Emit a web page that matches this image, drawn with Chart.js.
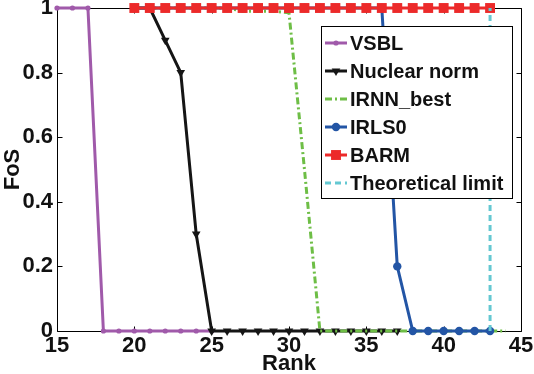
<!DOCTYPE html>
<html>
<head>
<meta charset="utf-8">
<script src="https://cdn.jsdelivr.net/npm/chart.js@4/dist/chart.umd.min.js"></script>
<style>
html,body{margin:0;padding:0;background:#fff;}
#wrap{width:534px;height:374px;position:relative;}
</style>
</head>
<body>
<div id="wrap"><canvas id="c" width="534" height="374"></canvas></div>
<script>
// ---- data ----
const xTicks = [15, 20, 25, 30, 35, 40, 45];
const yTicks = [0, 0.2, 0.4, 0.6, 0.8, 1];

const vsblRank = [15, 16, 17, 18, 19, 20, 21, 22, 23, 24, 25];
const vsblFoS  = [1, 1, 1, 0, 0, 0, 0, 0, 0, 0, 0];

const nucRank = [20, 21, 22, 23, 24, 25, 26, 27, 28, 29, 30, 31, 32, 33, 34, 35, 36, 37];
const nucFoS  = [1, 1, 0.9, 0.8, 0.3, 0, 0, 0, 0, 0, 0, 0, 0, 0, 0, 0, 0, 0];

const irnnRank = [20, 21, 22, 23, 24, 25, 26, 27, 28, 29, 30, 31, 32, 33, 34, 35, 36, 37, 38, 39, 40, 41, 42, 43, 44];
const irnnFoS  = [1, 1, 1, 1, 1, 1, 1, 0.99, 0.99, 0.99, 0.985, 0.5, 0, 0, 0, 0, 0, 0, 0, 0, 0, 0, 0, 0, 0];

const irlsRank = [20, 21, 22, 23, 24, 25, 26, 27, 28, 29, 30, 31, 32, 33, 34, 35, 36, 37, 38, 39, 40, 41, 42, 43];
const irlsFoS  = [1, 1, 1, 1, 1, 1, 1, 1, 1, 1, 1, 1, 1, 1, 1, 1, 1, 0.2, 0, 0, 0, 0, 0, 0];

const barmRank = [20, 21, 22, 23, 24, 25, 26, 27, 28, 29, 30, 31, 32, 33, 34, 35, 36, 37, 38, 39, 40, 41, 42, 43];
const barmFoS  = [1, 1, 1, 1, 1, 1, 1, 1, 1, 1, 1, 1, 1, 1, 1, 1, 1, 1, 1, 1, 1, 1, 1, 1];

const limitRank = [43, 43];
const limitFoS  = [0, 1];

const seriesNames = ['VSBL', 'Nuclear norm', 'IRNN_best', 'IRLS0', 'BARM', 'Theoretical limit'];

function pts(xs, ys) { return xs.map((x, i) => ({ x: x, y: ys[i] })); }

const FONT = "'Liberation Sans', Arial, Helvetica, sans-serif";

const datasets = [
  { label: seriesNames[0], data: pts(vsblRank, vsblFoS), borderColor: '#A05AAA', backgroundColor: '#A05AAA',
    borderWidth: 3, pointStyle: 'circle', pointRadius: 2.6, order: 6 },
  { label: seriesNames[1], data: pts(nucRank, nucFoS), borderColor: '#151515', backgroundColor: '#151515',
    borderWidth: 3, pointStyle: 'triangle', pointRotation: 180, pointRadius: 5, order: 5 },
  { label: seriesNames[2], data: pts(irnnRank, irnnFoS), borderColor: '#6EBE46', backgroundColor: '#6EBE46',
    borderWidth: 3, borderDash: [7, 3, 2, 3], pointRadius: 0, order: 4 },
  { label: seriesNames[3], data: pts(irlsRank, irlsFoS), borderColor: '#2355A5', backgroundColor: '#2355A5',
    borderWidth: 3, pointStyle: 'circle', pointRadius: 4.2, order: 3 },
  { label: seriesNames[4], data: pts(barmRank, barmFoS), borderColor: '#EC2A2A', backgroundColor: '#EC2A2A',
    borderWidth: 3, pointStyle: 'rect', pointRadius: 7, order: 2 },
  { label: seriesNames[5], data: pts(limitRank, limitFoS), borderColor: '#64C8D2', backgroundColor: '#64C8D2',
    borderWidth: 3, borderDash: [6, 4], pointRadius: 0, order: 1 }
];
datasets.forEach(d => {
  d.fill = false; d.tension = 0; d.pointBorderWidth = 0; d.pointHoverRadius = d.pointRadius; d.clip = false;
});

// box + inward ticks
const framePlugin = {
  id: 'frame',
  beforeDatasetsDraw(chart) {
    const { ctx, chartArea: a, scales } = chart;
    ctx.save();
    ctx.strokeStyle = '#000';
    ctx.lineWidth = 1;
    ctx.beginPath();
    const L = Math.round(a.left) + 0.5, R = Math.round(a.right) + 0.5;
    const T = Math.round(a.top) + 0.5, B = Math.round(a.bottom) + 0.5;
    ctx.rect(L, T, R - L, B - T);
    const tl = 5;
    scales.x.ticks.forEach(t => {
      const px = Math.round(scales.x.getPixelForValue(t.value)) + 0.5;
      ctx.moveTo(px, B); ctx.lineTo(px, B - tl);
      ctx.moveTo(px, T); ctx.lineTo(px, T + tl);
    });
    scales.y.ticks.forEach(t => {
      const py = Math.round(scales.y.getPixelForValue(t.value)) + 0.5;
      ctx.moveTo(L, py); ctx.lineTo(L + tl, py);
      ctx.moveTo(R, py); ctx.lineTo(R - tl, py);
    });
    ctx.stroke();
    ctx.restore();
  }
};

// legend with a box, drawn from the datasets' own styles
const legendPlugin = {
  id: 'boxLegend',
  afterDraw(chart) {
    const { ctx, chartArea: a } = chart;
    const bx = a.right - 200, by = a.top + 18, bw = 191, bh = 172, rowH = 28;
    ctx.save();
    ctx.fillStyle = '#fff';
    ctx.fillRect(bx, by, bw, bh);
    ctx.strokeStyle = '#000';
    ctx.lineWidth = 1;
    ctx.strokeRect(Math.round(bx) + 0.5, Math.round(by) + 0.5, bw, bh);
    chart.data.datasets.forEach((ds, i) => {
      const cy = by + 17 + i * rowH;
      const x0 = bx + 4, x1 = bx + 26;
      ctx.save();
      ctx.strokeStyle = ds.borderColor;
      ctx.lineWidth = ds.borderWidth;
      ctx.setLineDash(ds.borderDash || []);
      ctx.beginPath(); ctx.moveTo(x0, cy); ctx.lineTo(x1, cy); ctx.stroke();
      ctx.setLineDash([]);
      if (ds.pointRadius > 0) {
        ctx.fillStyle = ds.backgroundColor;
        Chart.helpers.drawPoint(ctx, {
          pointStyle: ds.pointStyle, rotation: ds.pointRotation || 0,
          radius: ds.pointRadius, borderWidth: 0
        }, (x0 + x1) / 2, cy);
      }
      ctx.restore();
      ctx.fillStyle = '#111';
      ctx.font = "bold 20px " + FONT;
      ctx.textBaseline = 'middle';
      ctx.textAlign = 'left';
      ctx.fillText(ds.label, bx + 29, cy + 1);
    });
    ctx.restore();
  }
};

new Chart(document.getElementById('c'), {
  type: 'line',
  data: { datasets: datasets },
  options: {
    responsive: false,
    animation: false,
    devicePixelRatio: 1,
    layout: { padding: { top: 8, right: 13, left: 0, bottom: 0 } },
    plugins: { legend: { display: false }, tooltip: { enabled: false } },
    scales: {
      x: {
        type: 'linear', min: 15, max: 45,
        afterBuildTicks(scale) { scale.ticks = xTicks.map(v => ({ value: v })); },
        afterFit(scale) { scale.height = 43; scale.paddingLeft = 0; scale.paddingRight = 0; },
        grid: { display: false, drawTicks: false },
        border: { display: false },
        ticks: { color: '#111', padding: 2, font: { family: FONT, size: 22, weight: 'bold' }, maxRotation: 0,
          callback: v => String(v) },
        title: { display: true, text: 'Rank', color: '#111', padding: { top: 0, bottom: -3 },
          font: { family: FONT, size: 22, weight: 'bold' } }
      },
      y: {
        type: 'linear', min: 0, max: 1,
        afterBuildTicks(scale) { scale.ticks = yTicks.map(v => ({ value: v })); },
        afterFit(scale) { scale.width = 57; scale.paddingTop = 0; scale.paddingBottom = 0; },
        grid: { display: false, drawTicks: false },
        border: { display: false },
        ticks: { color: '#111', padding: 4, font: { family: FONT, size: 22, weight: 'bold' },
          callback: v => String(Math.round(v * 10) / 10) },
        title: { display: true, text: 'FoS', color: '#111', padding: { top: 0, bottom: 0 },
          font: { family: FONT, size: 22, weight: 'bold' } }
      }
    }
  },
  plugins: [framePlugin, legendPlugin]
});
</script>
</body>
</html>
